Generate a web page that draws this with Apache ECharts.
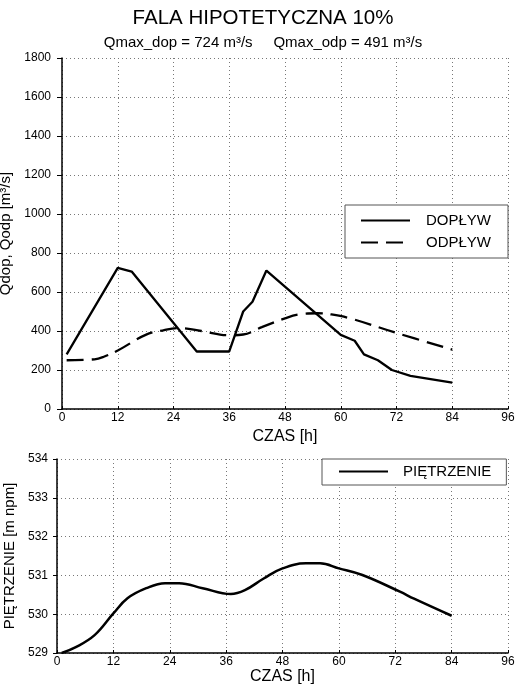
<!DOCTYPE html>
<html>
<head>
<meta charset="utf-8">
<script src="https://cdn.jsdelivr.net/npm/echarts@6/dist/echarts.min.js"></script>
<style>
  html, body { margin: 0; padding: 0; background: #fff; }
  #chart { width: 515px; height: 695px; }
</style>
</head>
<body>
<div id="chart"></div>
<script>
// dopływ (inflow) - czas [h], Q [m3/s]
var dopT = [1, 12, 15, 29, 36, 39, 41, 44, 60, 63, 65, 68, 71, 75, 84];
var dopQ = [280, 724, 705, 295, 295, 500, 550, 710, 380, 350, 280, 250, 200, 170, 135];

// odpływ (outflow)
var odpT = [1, 7, 9, 12, 18, 22, 25, 30, 36, 39, 43, 48, 51, 55, 58, 62, 72, 84];
var odpQ = [250, 255, 268, 300, 380, 405, 415, 400, 378, 382, 420, 465, 485, 491, 485, 465, 390, 305];

// piętrzenie (water level) [m npm]
var pietT = [1, 4, 8, 12, 15, 19, 23, 26, 31, 37, 40, 44, 48, 53, 56, 60, 65, 73, 76, 84];
var pietH = [529.0, 529.15, 529.46, 530.02, 530.41, 530.67, 530.8, 530.8, 530.67, 530.52,
             530.62, 530.92, 531.18, 531.31, 531.31, 531.18, 531.01, 530.58, 530.4, 529.96];

function pairs(xs, ys) {
  var out = [];
  for (var i = 0; i < xs.length; i++) out.push([xs[i], ys[i]]);
  return out;
}

var FONT = '"Liberation Sans", Arial, sans-serif';
var grid = {color: '#777', type: [1, 3], width: 1};
var plain = function (v) { return String(v); };

function xAxisFor(idx, gap) {
  return {
    type: 'value', gridIndex: idx, min: 0, max: 96, interval: 12,
    name: 'CZAS [h]', nameLocation: 'middle', nameGap: gap,
    nameTextStyle: {fontSize: 16, color: '#000', fontFamily: FONT},
    axisLine: {lineStyle: {color: '#000', width: 1.5}},
    axisTick: {inside: true, length: 3, lineStyle: {color: '#000'}},
    axisLabel: {margin: 3, fontSize: 12, color: '#000', fontFamily: FONT, formatter: plain},
    splitLine: {show: true, lineStyle: grid}
  };
}

var chart = echarts.init(document.getElementById('chart'));
var option = {
  backgroundColor: '#fff',
  animation: false,
  title: [
    {text: 'FALA HIPOTETYCZNA 10%', left: 258, top: 3, textAlign: 'center',
     textStyle: {fontSize: 20.5, fontWeight: 'normal', color: '#000', fontFamily: FONT}},
    {text: 'Qmax_dop = 724 m³/s     Qmax_odp = 491 m³/s', left: 258, top: 30, textAlign: 'center',
     textStyle: {fontSize: 15, fontWeight: 'normal', color: '#000', fontFamily: FONT}}
  ],
  grid: [
    {left: 62, right: 7, top: 58, bottom: 286, outerBoundsMode: 'none', containLabel: false},
    {left: 57, right: 7, top: 459, bottom: 42, outerBoundsMode: 'none', containLabel: false}
  ],
  legend: [
    {
      data: ['DOPŁYW', 'ODPŁYW'], orient: 'vertical', left: 345, top: 205,
      itemWidth: 49, itemHeight: 14, itemGap: 7, padding: [8, 17, 8, 15],
      borderColor: '#555', borderWidth: 1, backgroundColor: '#fff',
      itemStyle: {opacity: 0},
      textStyle: {fontSize: 15, color: '#000', fontFamily: FONT, padding: [0, 0, 0, 11]}
    },
    {
      data: ['PIĘTRZENIE'], left: 322, top: 459,
      itemWidth: 49, itemHeight: 14, padding: [5, 15, 6, 16],
      borderColor: '#555', borderWidth: 1, backgroundColor: '#fff',
      itemStyle: {opacity: 0},
      textStyle: {fontSize: 15, color: '#000', fontFamily: FONT, padding: [0, 0, 0, 10]}
    }
  ],
  xAxis: [xAxisFor(0, 14), xAxisFor(1, 16)],
  yAxis: [
    {
      type: 'value', gridIndex: 0, min: 0, max: 1800, interval: 200,
      name: 'Qdop, Qodp [m³/s]', nameLocation: 'middle', nameGap: 35, nameRotate: 90,
      nameTextStyle: {fontSize: 15, color: '#000', fontFamily: FONT},
      axisLine: {show: true, lineStyle: {color: '#000', width: 1.5}},
      axisTick: {show: true, length: 5, lineStyle: {color: '#000'}},
      axisLabel: {margin: 11, fontSize: 12, color: '#000', fontFamily: FONT, formatter: plain},
      splitLine: {show: true, lineStyle: grid}
    },
    {
      type: 'value', gridIndex: 1, min: 529, max: 534, interval: 1,
      name: 'PIĘTRZENIE [m npm]', nameLocation: 'middle', nameGap: 33, nameRotate: 90,
      nameTextStyle: {fontSize: 15, color: '#000', fontFamily: FONT},
      axisLine: {show: true, lineStyle: {color: '#000', width: 1.5}},
      axisTick: {show: true, length: 4, lineStyle: {color: '#000'}},
      axisLabel: {margin: 9, fontSize: 12, color: '#000', fontFamily: FONT, formatter: plain},
      splitLine: {show: true, lineStyle: grid}
    }
  ],
  series: [
    {
      name: 'DOPŁYW', type: 'line', xAxisIndex: 0, yAxisIndex: 0,
      data: pairs(dopT, dopQ), symbol: 'none',
      lineStyle: {color: '#000', width: 2.3},
      itemStyle: {color: '#000'}
    },
    {
      name: 'ODPŁYW', type: 'line', xAxisIndex: 0, yAxisIndex: 0,
      data: pairs(odpT, odpQ), symbol: 'none', smooth: 0.4,
      lineStyle: {color: '#000', width: 2.3, type: [17, 8]},
      itemStyle: {color: '#000'}
    },
    {
      name: 'PIĘTRZENIE', type: 'line', xAxisIndex: 1, yAxisIndex: 1,
      data: pairs(pietT, pietH), symbol: 'none', smooth: 0.4,
      lineStyle: {color: '#000', width: 2.5},
      itemStyle: {color: '#000'}
    }
  ]
};
chart.setOption(option);
</script>
</body>
</html>
